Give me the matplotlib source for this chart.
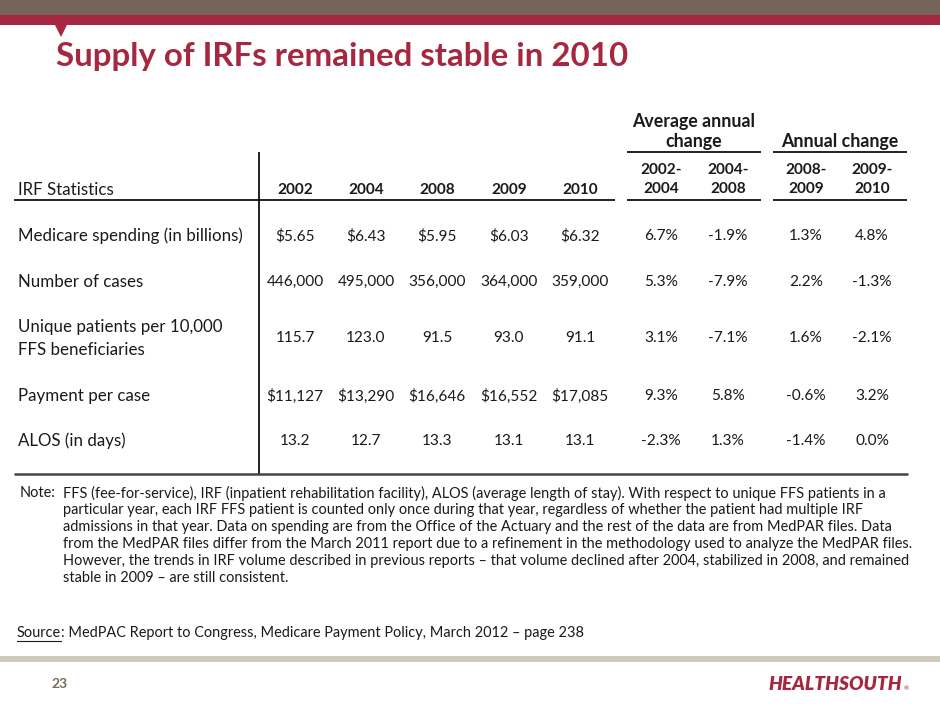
import matplotlib
matplotlib.use("Agg")
import matplotlib.pyplot as plt
from matplotlib.patches import Rectangle, Polygon

# ---------------- data ----------------
title = "Supply of IRFs remained stable in 2010"
stub_header = "IRF Statistics"
years = ["2002", "2004", "2008", "2009", "2010"]
group_headers = ["Average annual\nchange", "Annual change"]
change_periods = ["2002-\n2004", "2004-\n2008", "2008-\n2009", "2009-\n2010"]
row_labels = ["Medicare spending (in billions)", "Number of cases",
              "Unique patients per 10,000\nFFS beneficiaries",
              "Payment per case", "ALOS (in days)"]
spending = [5.65, 6.43, 5.95, 6.03, 6.32]
cases = [446000, 495000, 356000, 364000, 359000]
unique_patients = [115.7, 123.0, 91.5, 93.0, 91.1]
payment_per_case = [11127, 13290, 16646, 16552, 17085]
alos = [13.2, 12.7, 13.3, 13.1, 13.1]
avg_annual_change = [[6.7, -1.9], [5.3, -7.9], [3.1, -7.1], [9.3, 5.8], [-2.3, 1.3]]
annual_change = [[1.3, 4.8], [2.2, -1.3], [1.6, -2.1], [-0.6, 3.2], [-1.4, 0.0]]
note_lines = [
    "FFS (fee-for-service), IRF (inpatient rehabilitation facility), ALOS (average length of stay). With respect to unique FFS patients in a",
    "particular year, each IRF FFS patient is counted only once during that year, regardless of whether the patient had multiple IRF",
    "admissions in that year. Data on spending are from the Office of the Actuary and the rest of the data are from MedPAR files. Data",
    "from the MedPAR files differ from the March 2011 report due to a refinement in the methodology used to analyze the MedPAR files.",
    "However, the trends in IRF volume described in previous reports \u2013 that volume declined after 2004, stabilized in 2008, and remained",
    "stable in 2009 \u2013 are still consistent.",
]
source_text = ": MedPAC Report to Congress, Medicare Payment Policy, March 2012 \u2013 page 238"
page_number = "23"
logo = "HEALTHSOUTH"

# ---------------- styling ----------------
CRIMSON = "#A52840"
TAUPE = "#75645A"
BEIGE = "#CFC9B9"
TXT = "#1A1A1A"
FONT = "Lato"
plt.rcParams["font.family"] = [FONT, "DejaVu Sans"]

W, H = 940, 705
fig = plt.figure(figsize=(W / 100, H / 100), dpi=100)
ax = fig.add_axes([0, 0, 1, 1])
ax.set_xlim(0, W)
ax.set_ylim(H, 0)
ax.axis("off")

# top bars
ax.add_patch(Rectangle((0, 0), W, 15, color=TAUPE, lw=0))
ax.add_patch(Rectangle((0, 15), W, 9.5, color=CRIMSON, lw=0))
ax.add_patch(Polygon([(54.5, 24), (67.5, 24), (61, 37)], closed=True, color=CRIMSON, lw=0))

# title
ax.text(56, 66, title, fontsize=23.8, fontweight="bold", color=CRIMSON,
        ha="left", va="baseline")

# table geometry
label_x = 18
year_x = [295, 366, 437, 509, 580]
chg_x = [661, 728, 806, 872]
row_y = [236, 282, 338, 396, 441]
lfs = 12.2    # row labels
nfs_ = 11.1   # numbers
hfs = 12.8    # bold group headers

# headers
ax.text(label_x, 190, stub_header, fontsize=lfs, color=TXT, ha="left", va="center")
for x, yr in zip(year_x, years):
    ax.text(x, 190, yr, fontsize=nfs_, fontweight="bold", color=TXT, ha="center", va="center")
grp_centers = [(627 + 761) / 2, (773 + 907) / 2]
g0 = group_headers[0].split("\n")
ax.text(grp_centers[0], 122, g0[0], fontsize=hfs, fontweight="bold", color=TXT, ha="center", va="center")
ax.text(grp_centers[0], 142, g0[1], fontsize=hfs, fontweight="bold", color=TXT, ha="center", va="center")
ax.text(grp_centers[1], 142, group_headers[1], fontsize=hfs, fontweight="bold", color=TXT, ha="center", va="center")
for x, p in zip(chg_x, change_periods):
    a, b = p.split("\n")
    ax.text(x, 170, a, fontsize=nfs_, fontweight="bold", color=TXT, ha="center", va="center")
    ax.text(x, 189, b, fontsize=nfs_, fontweight="bold", color=TXT, ha="center", va="center")

# lines
lw = 1.3
for x0, x1 in [(627, 761), (773, 907)]:
    ax.plot([x0, x1], [152, 152], color="#111111", lw=lw, solid_capstyle="butt")
    ax.plot([x0, x1], [199.5, 199.5], color="#111111", lw=lw, solid_capstyle="butt")
ax.plot([14, 615], [199.5, 199.5], color="#111111", lw=lw, solid_capstyle="butt")
ax.plot([259, 259], [152, 474], color="#111111", lw=lw, solid_capstyle="butt")
ax.plot([14, 908], [474, 474], color="#444444", lw=1.8, solid_capstyle="butt")

# row contents
formatted = [
    ["${:.2f}".format(v) for v in spending],
    ["{:,}".format(v) for v in cases],
    ["{:.1f}".format(v) for v in unique_patients],
    ["${:,}".format(v) for v in payment_per_case],
    ["{:.1f}".format(v) for v in alos],
]
for i, (lab, y) in enumerate(zip(row_labels, row_y)):
    parts = lab.split("\n")
    if len(parts) == 1:
        ax.text(label_x, y, lab, fontsize=lfs, color=TXT, ha="left", va="center")
    else:
        ax.text(label_x, y - 11, parts[0], fontsize=lfs, color=TXT, ha="left", va="center")
        ax.text(label_x, y + 12, parts[1], fontsize=lfs, color=TXT, ha="left", va="center")
    for x, s in zip(year_x, formatted[i]):
        ax.text(x, y, s, fontsize=nfs_, color=TXT, ha="center", va="center")
    chg = avg_annual_change[i] + annual_change[i]
    for x, v in zip(chg_x, chg):
        ax.text(x, y, "{:.1f}%".format(v), fontsize=nfs_, color=TXT, ha="center", va="center")

# notes
nfs = 10.45
ax.text(20, 493, "Note:", fontsize=nfs, color=TXT, ha="left", va="center")
for k, line in enumerate(note_lines):
    ax.text(63, 493 + 17 * k, line, fontsize=nfs, color=TXT, ha="left", va="center")

# source with underlined word
fig.canvas.draw()
r = fig.canvas.get_renderer()
st = ax.text(17, 633, "Source", fontsize=nfs, color=TXT, ha="left", va="center")
bb = st.get_window_extent(renderer=r)
inv = ax.transData.inverted()
(x0d, _), (x1d, _) = inv.transform([(bb.x0, bb.y0), (bb.x1, bb.y1)])
ax.plot([x0d, x1d], [640.5, 640.5], color=TXT, lw=0.8)
ax.text(x1d, 633, source_text, fontsize=nfs, color=TXT, ha="left", va="center")

# footer
ax.add_patch(Rectangle((0, 655.5), W, 6.5, color=BEIGE, lw=0))
ax.text(60, 684, page_number, fontsize=10, fontweight="bold", color="#7A6A55",
        ha="center", va="center")
ax.text(902, 684, logo, fontsize=13.8, fontweight="heavy", style="italic",
        color=CRIMSON, ha="right", va="center")
ax.text(904, 689, "\u00ae", fontsize=4.5, color=CRIMSON, ha="left", va="center")

fig.savefig("out.png", dpi=100)
